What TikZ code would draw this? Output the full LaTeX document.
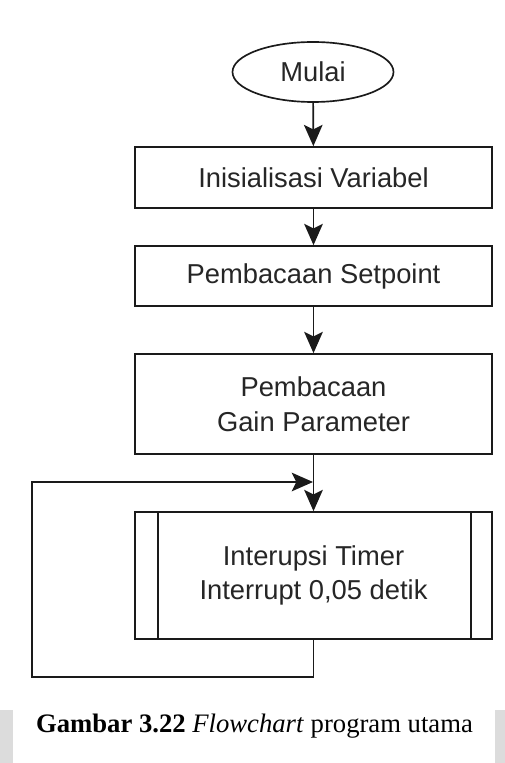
\documentclass[tikz,border=0pt]{standalone}
\usepackage{fontspec}
\setmainfont{Liberation Serif}
\newfontfamily\flowfont{Liberation Sans}
\usetikzlibrary{arrows.meta,shapes.geometric,calc}
\definecolor{stripgray}{HTML}{DCDCDC}
\definecolor{linecol}{HTML}{1A1A1A}
\tikzset{
  base/.style={draw=linecol, line width=1.25pt, fill=white, inner sep=0pt, align=center,
    font=\flowfont\fontsize{20.5}{26}\selectfont, text=black!85},
  procbox/.style={base, rectangle, minimum width=267.75pt},
  termbox/.style={base, ellipse, minimum width=120.75pt, minimum height=45pt},
  arr/.style={draw=linecol, line width=1.25pt, -{Stealth[length=16pt, width=14pt, inset=3.5pt]}},
  plain/.style={draw=linecol, line width=1.25pt},
}
\begin{document}
\begin{tikzpicture}[x=0.75pt, y=-0.75pt]
\useasboundingbox (0,0) rectangle (505,763);
\fill[white] (0,0) rectangle (505,763);
\fill[stripgray] (0,710) rectangle (13,763);
\fill[stripgray] (495,710) rectangle (505,763);

\node[termbox] (start) at (313,72) {Mulai};
\node[procbox, minimum height=45.75pt] (init) at (313.5,177.5) {Inisialisasi Variabel};
\node[procbox, minimum height=45pt] (setp) at (313.5,276) {Pembacaan Setpoint};
\node[procbox, minimum height=75pt] (gain) at (313.5,404) {Pembacaan\\Gain Parameter};
\node[procbox, minimum height=95.25pt] (sub) at (313.5,575.5) {Interupsi Timer\\Interrupt 0,05 detik};
\draw[plain] ($(sub.north west)+(18pt,0)$) -- ($(sub.south west)+(18pt,0)$);
\draw[plain] ($(sub.north east)+(-16.5pt,0)$) -- ($(sub.south east)+(-16.5pt,0)$);

\coordinate (ll) at (32,677);
\coordinate (join) at (313,482);

\draw[arr] (start) -- (init);
\draw[arr] (init) -- (setp);
\draw[arr] (setp) -- (gain);
\draw[arr] (gain) -- (sub);
\draw[arr] (sub.south) |- (ll) |- (join);

\node[font=\fontsize{20}{24}\selectfont, anchor=base] (cap) at (254.5,732)
  {\textbf{Gambar 3.22} \textit{Flowchart} program utama};
\end{tikzpicture}
\end{document}
